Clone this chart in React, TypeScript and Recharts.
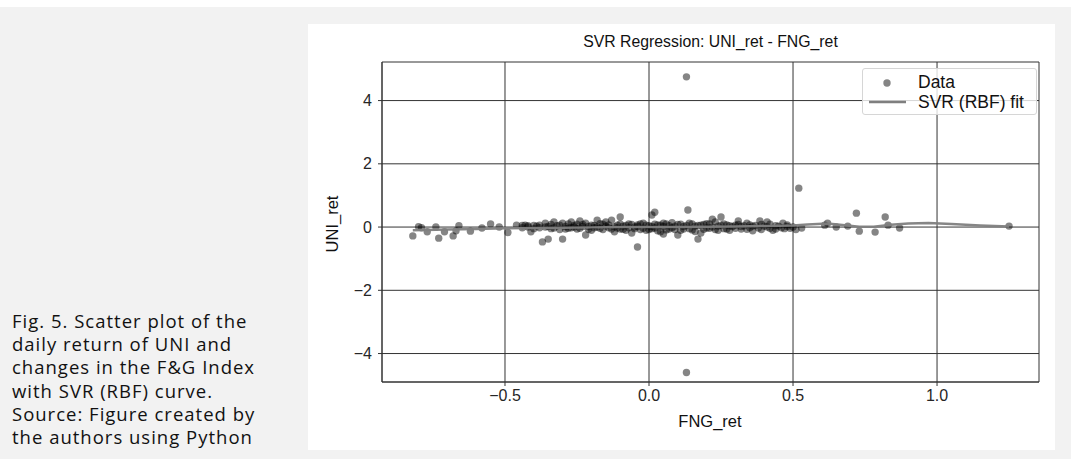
import React from 'react';
import { ScatterChart, Scatter, XAxis, YAxis, CartesianGrid } from 'recharts';

// daily FNG_ret / UNI_ret pairs
const FNG_RET = [
  -0.82, -0.8, -0.79, -0.77, -0.74, -0.73, -0.71, -0.68, -0.66, -0.67, -0.62, -0.58, -0.55, -0.52, -0.49, -0.46,
  -0.44, -0.43, -0.42, -0.41, -0.4, -0.39, -0.38, -0.37, -0.36, -0.35, -0.35, -0.34, -0.33, -0.32, -0.31, -0.3,
  -0.3, -0.29, -0.28, -0.27, -0.26, -0.25, -0.24, -0.23, -0.22, -0.21, -0.2, -0.19, -0.18, -0.17, -0.16, -0.15,
  -0.14, -0.13, -0.12, -0.11, -0.1, -0.1, -0.09, -0.08, -0.07, -0.06, -0.05, -0.04, -0.04, -0.03, -0.02, -0.01,
  0.0, 0.01, 0.01, 0.02, 0.02, 0.03, 0.04, 0.04, 0.05, 0.05, 0.06, 0.07, 0.08, 0.09, 0.1, 0.1,
  0.11, 0.12, 0.13, 0.13, 0.135, 0.14, 0.15, 0.16, 0.17, 0.17, 0.18, 0.19, 0.2, 0.21, 0.22, 0.23,
  0.23, 0.24, 0.25, 0.26, 0.27, 0.28, 0.29, 0.3, 0.31, 0.32, 0.33, 0.34, 0.35, 0.36, 0.37, 0.385,
  0.39, 0.4, 0.41, 0.42, 0.43, 0.44, 0.465, 0.47, 0.48, 0.5, 0.51, 0.52, 0.53, 0.61, 0.62, 0.65,
  0.69, 0.72, 0.73, 0.785, 0.82, 0.83, 0.87, 1.25,
  -0.44, -0.42, -0.4, -0.38, -0.36, -0.34, -0.33, -0.31, -0.29, -0.28, -0.27, -0.26, -0.25, -0.24, -0.23, -0.22,
  -0.21, -0.2, -0.19, -0.18, -0.17, -0.16, -0.15, -0.14, -0.13, -0.12, -0.11, -0.1, -0.09, -0.08, -0.07, -0.06,
  -0.05, -0.04, -0.03, -0.02, -0.01, 0.0, 0.01, 0.02, 0.03, 0.05, 0.06, 0.07, 0.08, 0.09, 0.11, 0.12,
  0.13, 0.14, 0.15, 0.16, 0.18, 0.19, 0.2, 0.21, 0.22, 0.24, 0.25, 0.26, 0.27, 0.28, 0.3, 0.31,
  0.32, 0.34, 0.35, 0.36, 0.38, 0.39, 0.41, 0.42, 0.44, 0.45, 0.46, 0.48, 0.49,
];
const UNI_RET = [
  -0.28, 0.01, -0.02, -0.15, 0.0, -0.35, -0.15, -0.28, 0.04, -0.12, -0.13, -0.03, 0.1, 0.0, -0.17, 0.06,
  0.05, 0.06, 0.04, -0.15, 0.05, 0.03, 0.06, -0.47, 0.12, -0.38, 0.02, -0.05, 0.16, 0.04, -0.08, -0.38,
  0.12, 0.02, -0.04, 0.16, 0.05, -0.06, 0.19, 0.08, -0.25, 0.02, -0.1, 0.05, 0.22, -0.04, 0.09, 0.16,
  -0.02, 0.22, -0.15, 0.06, 0.32, -0.06, 0.03, -0.1, 0.1, -0.19, 0.0, -0.63, 0.07, -0.08, 0.12, -0.1,
  0.04, 0.38, -0.05, 0.47, 0.09, -0.12, -0.15, 0.06, -0.22, 0.02, 0.1, -0.06, 0.14, 0.03, -0.25, 0.08,
  -0.1, 0.02, 4.75, -4.6, 0.54, -0.05, 0.1, -0.14, -0.38, 0.05, -0.19, 0.08, -0.03, 0.1, 0.25, 0.16,
  -0.08, 0.03, 0.32, -0.05, 0.07, -0.1, 0.02, 0.06, 0.19, -0.06, 0.04, 0.12, -0.02, -0.12, 0.05, 0.19,
  -0.08, 0.03, 0.16, -0.04, -0.1, 0.04, 0.12, -0.05, 0.02, 0.0, -0.08, 1.23, -0.03, 0.06, 0.12, 0.0,
  0.03, 0.44, -0.13, -0.16, 0.32, 0.06, -0.03, 0.03,
  -0.02, 0.0, -0.05, -0.02, 0.0, 0.08, -0.03, 0.06, -0.06, 0.1, -0.02, 0.0, 0.09, -0.04, 0.02, 0.12,
  -0.07, 0.06, -0.02, 0.0, 0.11, -0.08, 0.03, 0.07, -0.06, 0.01, -0.03, 0.1, -0.07, 0.05, -0.02, 0.08,
  -0.05, 0.02, 0.1, -0.04, 0.06, -0.08, 0.02, -0.03, 0.07, 0.12, -0.09, 0.04, -0.02, -0.08, 0.09, -0.06,
  0.05, 0.12, -0.09, 0.03, 0.06, -0.07, 0.11, -0.04, 0.0, -0.1, 0.06, 0.1, -0.06, 0.04, -0.04, 0.08,
  0.02, -0.07, 0.07, 0.03, -0.03, 0.08, 0.0, 0.09, -0.06, 0.03, -0.02, 0.07, -0.04,
];

// SVR (RBF) fitted curve
const FIT_X = [-0.82, -0.7, -0.6, -0.5, -0.4, -0.3, -0.2, -0.1, 0.0, 0.1, 0.2, 0.3, 0.4, 0.5, 0.55, 0.62, 0.68, 0.73, 0.78, 0.84, 0.9, 0.97, 1.05, 1.15, 1.25];
const FIT_Y = [-0.1, -0.08, -0.06, -0.04, -0.03, -0.02, -0.01, 0.0, 0.0, 0.0, 0.01, 0.02, 0.03, 0.05, 0.08, 0.11, 0.06, 0.01, 0.01, 0.07, 0.11, 0.13, 0.1, 0.05, 0.02];

const X_TICKS = [-0.5, 0, 0.5, 1.0];
const Y_TICKS = [-4, -2, 0, 2, 4];

const CAPTION = [
  'Fig. 5. Scatter plot of the',
  'daily return of UNI and',
  'changes in the F&G Index',
  'with SVR (RBF) curve.',
  'Source: Figure created by',
  'the authors using Python',
];

const points = FNG_RET.map((x, i) => ({ x, y: UNI_RET[i] }));
const fit = FIT_X.map((x, i) => ({ x, y: FIT_Y[i] }));

const minus = (v: number) => (v < 0 ? '\u2212' : '');
const fmtX = (v: number) => minus(v) + Math.abs(v).toFixed(1);
const fmtY = (v: number) => minus(v) + Math.abs(v);

const GRID = '#333';
const FONT = '"Liberation Sans", Arial, sans-serif';
const tickStyle = { fill: '#262626', fontSize: 16, fontFamily: FONT };

const Dot = (props: any) => (
  <circle cx={props.cx} cy={props.cy} r={3.7} fill="#000" fillOpacity={0.48} />
);

export default function App() {
  return (
    <div style={{ position: 'absolute', left: 0, top: 0, width: 1071, height: 459, background: '#fff', overflow: 'hidden' }}>
      <div style={{ position: 'absolute', left: 0, top: 7, width: 1071, height: 452, background: '#f2f2f2' }} />
      <div style={{ position: 'absolute', left: 308, top: 24, width: 747, height: 426, background: '#fff' }} />

      <div style={{ position: 'absolute', left: 12, top: 309, fontFamily: '"Open Sans", sans-serif', fontSize: 18.5, letterSpacing: 1, lineHeight: '23.2px', color: '#111', whiteSpace: 'nowrap' }}>
        {CAPTION.map((line) => (
          <div key={line}>{line}</div>
        ))}
      </div>

      <div style={{ position: 'absolute', left: 382, width: 657, top: 33, textAlign: 'center', fontFamily: FONT, fontSize: 15.8, color: '#111' }}>
        SVR Regression: UNI_ret - FNG_ret
      </div>

      <div style={{ position: 'absolute', left: 0, top: 0 }}>
        <ScatterChart width={1071} height={459} margin={{ top: 62, right: 32, bottom: 37, left: 322 }}>
          <CartesianGrid stroke={GRID} strokeWidth={1} />
          <XAxis
            type="number"
            dataKey="x"
            domain={[-0.927, 1.354]}
            allowDataOverflow
            ticks={X_TICKS}
            tickFormatter={fmtX}
            tick={tickStyle}
            tickSize={4}
            tickMargin={4}
            stroke={GRID}
            height={40}
          />
          <XAxis xAxisId="top" orientation="top" type="number" domain={[-0.927, 1.354]} tick={false} tickLine={false} stroke={GRID} height={0} />
          <YAxis
            type="number"
            dataKey="y"
            domain={[-4.9, 5.22]}
            allowDataOverflow
            ticks={Y_TICKS}
            tickFormatter={fmtY}
            tick={tickStyle}
            tickSize={4}
            tickMargin={6}
            stroke={GRID}
            width={60}
          />
          <YAxis yAxisId="right" orientation="right" type="number" domain={[-4.9, 5.22]} tick={false} tickLine={false} stroke={GRID} width={0} />
          <Scatter data={points} shape={Dot} isAnimationActive={false} />
          <Scatter
            data={fit}
            line={{ stroke: '#7f7f7f', strokeWidth: 2.5, strokeOpacity: 0.95 }}
            lineType="joint"
            shape={() => <g />}
            isAnimationActive={false}
          />
        </ScatterChart>
      </div>

      <div style={{ position: 'absolute', left: 610, width: 200, top: 411, lineHeight: '20px', textAlign: 'center', fontFamily: FONT, fontSize: 16.5, color: '#111' }}>
        FNG_ret
      </div>
      <div style={{ position: 'absolute', left: 332, top: 224, transform: 'translate(-50%, -50%) rotate(-90deg)', fontFamily: FONT, fontSize: 16.5, color: '#111', whiteSpace: 'nowrap' }}>
        UNI_ret
      </div>

      <div style={{ position: 'absolute', left: 862, top: 68, width: 173, height: 45, border: '1px solid #d6d6d6', borderRadius: 3, background: 'rgba(255,255,255,0.8)', fontFamily: FONT, fontSize: 17.5, color: '#111' }}>
        <svg width={40} height={45} style={{ position: 'absolute', left: 4, top: 0 }}>
          <circle cx={20} cy={14} r={3.7} fill="#000" fillOpacity={0.48} />
          <line x1={2} x2={39} y1={33} y2={33} stroke="#7f7f7f" strokeWidth={2.5} />
        </svg>
        <div style={{ position: 'absolute', left: 55, top: 3, lineHeight: '20px' }}>Data</div>
        <div style={{ position: 'absolute', left: 55, top: 23, lineHeight: '20px', whiteSpace: 'nowrap' }}>SVR (RBF) fit</div>
      </div>
    </div>
  );
}
